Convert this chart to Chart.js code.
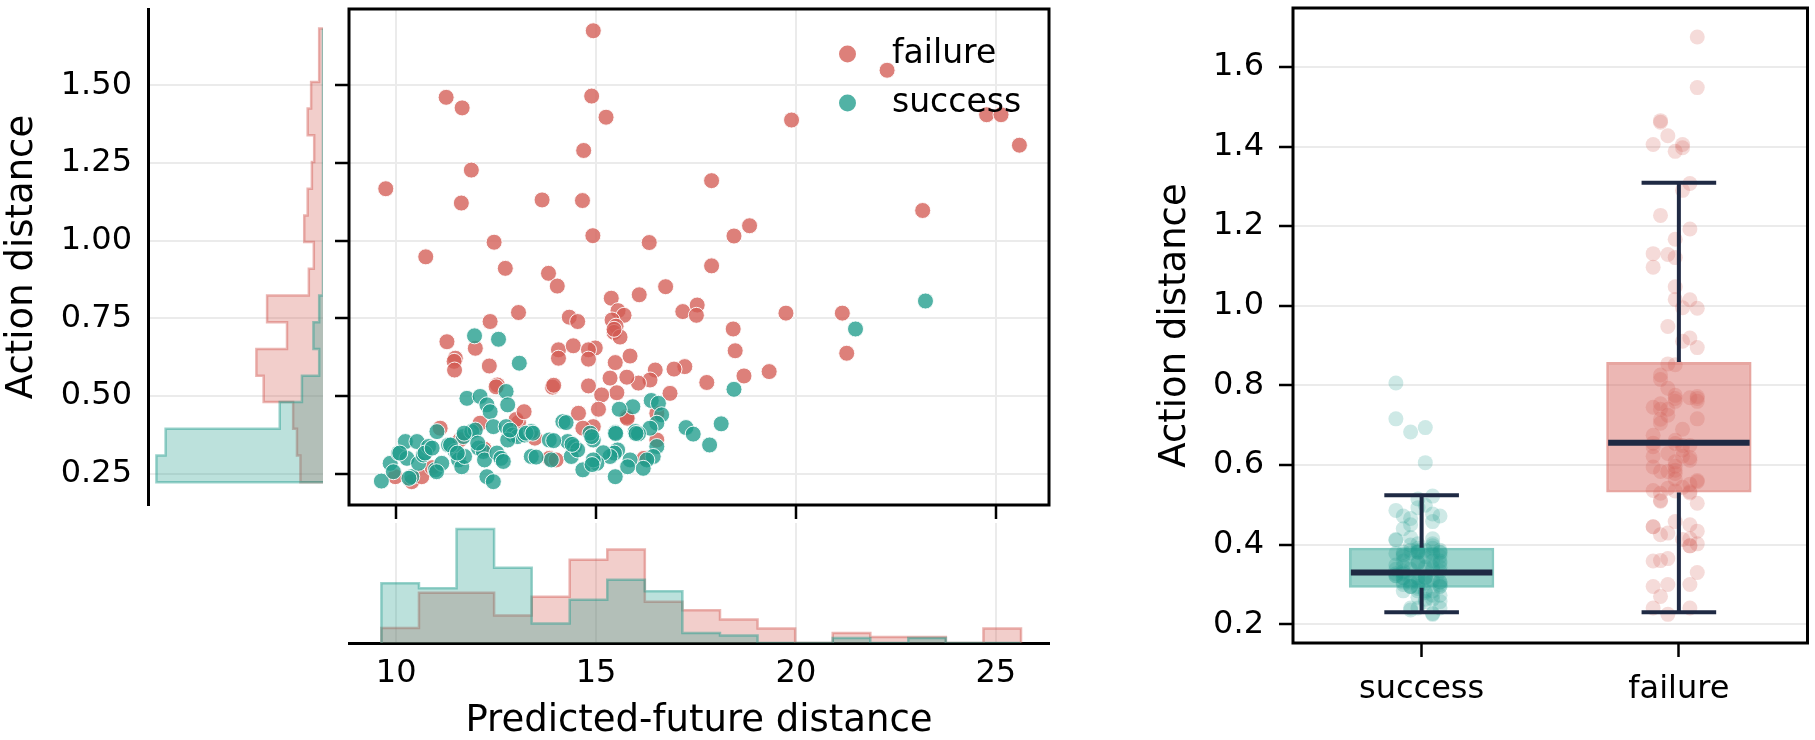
<!DOCTYPE html>
<html>
<head>
<meta charset="utf-8">
<script src="https://cdn.jsdelivr.net/npm/chart.js@4.4.1/dist/chart.umd.min.js"></script>
<style>
  html, body { margin: 0; padding: 0; background: #fff; }
  #wrap { position: relative; width: 1815px; height: 740px; overflow: hidden; }
  #wrap canvas { position: absolute; left: 0; top: 0; }
</style>
</head>
<body>
<div id="wrap">
  <canvas id="histY" width="1815" height="740"></canvas>
  <canvas id="histX" width="1815" height="740"></canvas>
  <canvas id="joint" width="1815" height="740"></canvas>
  <canvas id="box" width="1815" height="740"></canvas>
</div>
<script>
// ---- data ----
const hueOrder = ['failure', 'success']
const boxOrder = ['success', 'failure']

const failurePfd = [14.93, 11.25, 11.65, 14.89, 15.25, 19.89, 22.28, 24.77, 25.13, 25.59, 14.69, 11.88, 9.74, 17.89, 11.63, 13.65, 14.66, 23.17, 18.84, 18.45,
  14.92, 12.45, 16.33, 10.74, 12.73, 13.81, 14.03, 17.89, 16.74, 16.08, 15.38, 13.06, 17.17, 17.53, 17.51, 19.75, 21.16, 21.27, 14.33, 14.54,
  12.35, 15.55, 15.70, 15.40, 15.50, 15.45, 15.60, 15.45, 18.43, 18.48, 19.33, 18.70, 17.77, 17.22, 16.95, 16.48, 16.35, 16.06, 15.77, 15.35,
  16.85, 15.52, 15.14, 15.06, 15.77, 16.52, 14.93, 14.98, 15.85, 15.48, 11.27, 11.48, 11.45, 11.46, 11.98, 12.33, 14.06, 14.06, 14.43, 14.81,
  14.81, 12.53, 12.50, 13.91, 13.94, 14.81, 14.56, 14.67, 13.06, 13.00, 13.47, 13.83, 11.10, 10.39, 10.64, 9.98, 12.10, 16.52, 15.78, 14.00,
  10.90, 12.20, 16.20, 11.60, 13.20]
const failureAd = [1.675, 1.461, 1.427, 1.465, 1.397, 1.388, 1.548, 1.405, 1.405, 1.307, 1.290, 1.227, 1.167, 1.193, 1.121, 1.131, 1.129, 1.097, 1.048, 1.015,
  1.016, 0.995, 0.994, 0.948, 0.911, 0.895, 0.854, 0.919, 0.852, 0.826, 0.815, 0.769, 0.772, 0.793, 0.760, 0.767, 0.767, 0.638, 0.754, 0.740,
  0.740, 0.775, 0.760, 0.745, 0.725, 0.705, 0.690, 0.715, 0.716, 0.646, 0.579, 0.565, 0.544, 0.595, 0.587, 0.584, 0.552, 0.542, 0.561, 0.558,
  0.509, 0.511, 0.504, 0.458, 0.434, 0.359, 0.402, 0.655, 0.629, 0.608, 0.675, 0.622, 0.612, 0.584, 0.654, 0.597, 0.649, 0.622, 0.662, 0.649,
  0.619, 0.536, 0.530, 0.529, 0.535, 0.533, 0.445, 0.397, 0.415, 0.425, 0.365, 0.300, 0.397, 0.225, 0.241, 0.241, 0.413, 0.445, 0.429, 0.295,
  0.270, 0.330, 0.300, 0.360, 0.450]

const successPfd = [23.24, 21.49, 18.45, 18.13, 17.84, 17.25, 17.43, 11.96, 12.56, 13.08, 16.38, 16.56, 16.64, 16.52, 16.35, 15.92, 15.58, 15.48, 15.98, 16.06,
  16.52, 16.43, 16.27, 16.18, 15.85, 15.79, 15.54, 15.46, 15.35, 15.18, 15.02, 14.93, 15.48, 9.63, 9.85, 9.93, 10.06, 10.23, 10.27, 10.39,
  10.52, 10.56, 10.68, 10.81, 11.02, 10.98, 11.14, 11.31, 11.48, 11.56, 11.64, 11.68, 11.77, 11.71, 11.89, 11.98, 12.06, 12.10, 12.18, 12.27,
  12.21, 12.35, 12.27, 12.43, 12.43, 12.52, 12.62, 12.75, 12.75, 12.79, 12.92, 13.04, 13.21, 13.38, 13.38, 13.83, 13.88, 14.17, 14.29, 14.46,
  14.38, 14.54, 14.67, 14.85, 14.93, 10.32, 10.72, 10.90, 11.36, 11.70, 12.04, 12.68, 12.79, 12.85, 13.25, 13.42, 11.01, 14.25, 14.89, 14.90,
  15.49, 16.00, 13.50, 13.94, 14.40, 11.53, 10.09]
const successAd = [0.806, 0.716, 0.522, 0.411, 0.343, 0.399, 0.378, 0.694, 0.683, 0.606, 0.486, 0.477, 0.440, 0.413, 0.397, 0.466, 0.458, 0.383, 0.386, 0.379,
  0.338, 0.306, 0.295, 0.268, 0.295, 0.273, 0.327, 0.317, 0.306, 0.318, 0.284, 0.359, 0.241, 0.227, 0.284, 0.257, 0.317, 0.354, 0.300, 0.241,
  0.354, 0.284, 0.311, 0.338, 0.386, 0.263, 0.284, 0.343, 0.322, 0.295, 0.273, 0.370, 0.493, 0.306, 0.386, 0.391, 0.333, 0.499, 0.322, 0.472,
  0.295, 0.450, 0.241, 0.225, 0.402, 0.317, 0.300, 0.402, 0.515, 0.472, 0.375, 0.370, 0.375, 0.386, 0.306, 0.359, 0.295, 0.418, 0.354, 0.338,
  0.306, 0.327, 0.263, 0.381, 0.295, 0.236, 0.317, 0.333, 0.343, 0.381, 0.349, 0.290, 0.359, 0.391, 0.381, 0.381, 0.257, 0.415, 0.370, 0.280,
  0.380, 0.380, 0.304, 0.357, 0.345, 0.317, 0.317]

// marginal histograms (bin edges + heights in counts)
const pfdEdges = [9.63, 10.57, 11.51, 12.45, 13.39, 14.34, 15.28, 16.22, 17.16, 18.10, 19.04, 19.98, 20.92, 21.86, 22.81, 23.75, 24.69, 25.63]
const failurePfdHist = [3, 10, 10, 5.5, 9.2, 16.6, 18.6, 8.2, 6.5, 4.7, 2.9, 0, 2, 1.2, 1.2, 0, 2.9]
const successPfdHist = [11.9, 10.9, 22.7, 15, 3.9, 8.6, 12.6, 10.3, 2, 1.5, 0, 0, 1, 0, 1, 0, 0]

const adEdges = [0.223, 0.309, 0.395, 0.481, 0.566, 0.652, 0.738, 0.824, 0.910, 0.996, 1.081, 1.167, 1.253, 1.339, 1.425, 1.510, 1.596, 1.682]
const failureAdHist = [5.9, 6.8, 7.8, 15.5, 17.4, 9.4, 14.6, 3.7, 2.4, 4.9, 4.0, 2.9, 2.3, 4.0, 3.1, 1, 1]
const successAdHist = [43.5, 41.1, 11.3, 5.5, 1, 2.5, 1, 0, 0, 0, 0, 0, 0, 0, 0, 0, 0]

// box plot stats, in boxOrder
const whiskerLow = [0.230, 0.230]
const q1 = [0.292, 0.531]
const median = [0.330, 0.656]
const q3 = [0.392, 0.859]
const whiskerHigh = [0.524, 1.309]

const pfdTicks = [10, 15, 20, 25]
const adTicks = [0.25, 0.50, 0.75, 1.00, 1.25, 1.50]
const boxTicks = [0.2, 0.4, 0.6, 0.8, 1.0, 1.2, 1.4, 1.6]

// ---- styling ----
const RED = [211, 92, 84]
const TEAL = [32, 156, 140]
const WHISK = '#1f2a44'
const GRID = '#ebebeb'
const rgba = (c, a) => 'rgba(' + c.join(',') + ',' + a + ')'
const colorOf = { failure: RED, success: TEAL }

Chart.defaults.font.family = "'DejaVu Sans'"
Chart.defaults.color = '#000'

const fixW = w => s => { s.width = w; s.paddingLeft = s.paddingRight = s.paddingTop = s.paddingBottom = 0 }
const fixH = h => s => { s.height = h; s.paddingLeft = s.paddingRight = s.paddingTop = s.paddingBottom = 0 }
const setTicks = list => s => { s.ticks = list.map(v => ({ value: v })) }
const pts = (xs, ys) => xs.map((x, i) => ({ x: x, y: ys[i] }))

const framePlugin = {
  id: 'frame',
  afterDatasetsDraw(chart) {
    const { ctx, chartArea: a } = chart
    ctx.save()
    ctx.strokeStyle = '#000'
    ctx.lineWidth = 3
    ctx.strokeRect(a.left, a.top, a.right - a.left, a.bottom - a.top)
    ctx.restore()
  }
}

const insideLegend = {
  id: 'insideLegend',
  afterDatasetsDraw(chart) {
    const { ctx, chartArea: a } = chart
    ctx.save()
    ctx.font = '33px "DejaVu Sans"'
    ctx.textBaseline = 'alphabetic'
    hueOrder.forEach((name, i) => {
      const y = a.top + 45 + i * 49
      ctx.beginPath()
      ctx.arc(a.right - 201.5, y, 8.5, 0, Math.PI * 2)
      ctx.fillStyle = rgba(colorOf[name], 0.78)
      ctx.fill()
      ctx.fillStyle = '#000'
      ctx.fillText(name, a.right - 157, y + 9)
    })
    ctx.restore()
  }
}

// step outline for a histogram, closed on the baseline
function stepPoints(edges, counts, vertical) {
  const P = (v, c) => vertical ? { x: c, y: v } : { x: v, y: c }
  const out = [P(edges[0], 0)]
  counts.forEach((c, i) => { out.push(P(edges[i], c)); out.push(P(edges[i + 1], c)) })
  out.push(P(edges[edges.length - 1], 0))
  return out
}

function histDataset(name, edges, counts, vertical, order) {
  return {
    label: name,
    data: stepPoints(edges, counts, vertical),
    showLine: true,
    fill: 'shape',
    backgroundColor: rgba(colorOf[name], 0.3),
    borderColor: rgba(colorOf[name], 0.45),
    borderWidth: 2.5,
    pointRadius: 0,
    tension: 0,
    order: order
  }
}

const AD_MIN = 0.150, AD_MAX = 1.745
const PFD_MIN = 8.82, PFD_MAX = 26.33

// main scatter
new Chart(document.getElementById('joint'), {
  type: 'scatter',
  data: {
    datasets: [
      { label: 'success', data: pts(successPfd, successAd), backgroundColor: rgba(TEAL, 0.78), borderColor: 'rgba(255,255,255,0.9)', borderWidth: 1, pointRadius: 8, order: 0 },
      { label: 'failure', data: pts(failurePfd, failureAd), backgroundColor: rgba(RED, 0.78), borderColor: 'rgba(255,255,255,0.9)', borderWidth: 1, pointRadius: 8, order: 1 }
    ]
  },
  options: {
    responsive: false,
    animation: false,
    layout: { padding: { left: 335, top: 9, right: 766, bottom: 221 } },
    plugins: { legend: { display: false }, tooltip: { enabled: false } },
    scales: {
      x: {
        type: 'linear', min: PFD_MIN, max: PFD_MAX,
        afterBuildTicks: setTicks(pfdTicks),
        ticks: { display: false },
        grid: { color: GRID, lineWidth: 2, tickColor: '#000', tickWidth: 2.5, tickLength: 14 },
        border: { display: false },
        afterFit: fixH(14)
      },
      y: {
        type: 'linear', min: AD_MIN, max: AD_MAX,
        afterBuildTicks: setTicks(adTicks),
        ticks: { display: false },
        grid: { color: GRID, lineWidth: 2, tickColor: '#000', tickWidth: 2.5, tickLength: 14 },
        border: { display: false },
        afterFit: fixW(14)
      }
    }
  },
  plugins: [framePlugin, insideLegend]
})

// left marginal: action distance
new Chart(document.getElementById('histY'), {
  type: 'scatter',
  data: {
    datasets: [
      histDataset('success', adEdges, successAdHist, true, 0),
      histDataset('failure', adEdges, failureAdHist, true, 1)
    ]
  },
  options: {
    responsive: false,
    animation: false,
    layout: { padding: { left: 0, top: 9, right: 1815 - 323, bottom: 740 - 505 } },
    plugins: { legend: { display: false }, tooltip: { enabled: false } },
    scales: {
      x: { type: 'linear', reverse: true, min: 0, max: 45.7, display: false },
      y: {
        type: 'linear', min: AD_MIN, max: AD_MAX,
        afterBuildTicks: setTicks(adTicks),
        ticks: { font: { size: 32 }, padding: 16, callback: v => v.toFixed(2) },
        grid: { color: GRID, lineWidth: 2, drawTicks: false },
        border: { display: true, color: '#000', width: 3 },
        title: { display: true, text: 'Action distance', font: { size: 37 }, padding: 0 },
        afterFit: fixW(148)
      }
    }
  }
})

// bottom marginal: predicted-future distance
new Chart(document.getElementById('histX'), {
  type: 'scatter',
  data: {
    datasets: [
      histDataset('success', pfdEdges, successPfdHist, false, 0),
      histDataset('failure', pfdEdges, failurePfdHist, false, 1)
    ]
  },
  options: {
    responsive: false,
    animation: false,
    layout: { padding: { left: 349, top: 523, right: 766, bottom: 0 } },
    plugins: { legend: { display: false }, tooltip: { enabled: false } },
    scales: {
      x: {
        type: 'linear', min: PFD_MIN, max: PFD_MAX,
        afterBuildTicks: setTicks(pfdTicks),
        ticks: { font: { size: 32 }, padding: 11, callback: v => String(v) },
        grid: { color: GRID, lineWidth: 2, drawTicks: false },
        border: { display: true, color: '#000', width: 3 },
        title: { display: true, text: 'Predicted-future distance', font: { size: 37 }, padding: { top: 0, bottom: -4 } },
        afterFit: fixH(97)
      },
      y: { type: 'linear', min: 0, max: 23.9, display: false }
    }
  }
})

// box plot + strip
const jitter = v => ((Math.round(v * 1000) % 7) / 7 - 0.5) * 0.2
const stripOf = { success: [successPfd, successAd], failure: [failurePfd, failureAd] }

const boxSets = []
boxSets.push({
  type: 'bar',
  data: boxOrder.map((g, i) => ({ x: i, y: [q1[i], q3[i]] })),
  backgroundColor: boxOrder.map(g => rgba(colorOf[g], 0.44)),
  borderColor: boxOrder.map(g => rgba(colorOf[g], 0.55)),
  borderWidth: 3,
  borderSkipped: false,
  categoryPercentage: 1,
  barPercentage: 0.565,
  order: 3
})
boxOrder.forEach((g, i) => {
  const [xs, ys] = stripOf[g]
  boxSets.push({
    type: 'scatter',
    data: ys.map((y, k) => ({ x: i + jitter(xs[k]), y: y })),
    backgroundColor: rgba(colorOf[g], 0.22),
    borderWidth: 0,
    pointRadius: 7.5,
    order: 2
  })
  const seg = (x0, y0, x1, y1, w, order) => boxSets.push({
    type: 'scatter', showLine: true,
    data: [{ x: x0, y: y0 }, { x: x1, y: y1 }],
    borderColor: WHISK, borderWidth: w, pointRadius: 0, order: order
  })
  seg(i, q3[i], i, whiskerHigh[i], 4, 1)
  seg(i, whiskerLow[i], i, q1[i], 4, 1)
  seg(i - 0.145, whiskerHigh[i], i + 0.145, whiskerHigh[i], 4, 1)
  seg(i - 0.145, whiskerLow[i], i + 0.145, whiskerLow[i], 4, 1)
  seg(i - 0.275, median[i], i + 0.275, median[i], 6, 0)
})

new Chart(document.getElementById('box'), {
  type: 'scatter',
  data: { datasets: boxSets },
  options: {
    responsive: false,
    animation: false,
    layout: { padding: { left: 1153, top: 8, right: 6, bottom: 0 } },
    plugins: { legend: { display: false }, tooltip: { enabled: false } },
    scales: {
      x: {
        type: 'linear', min: -0.5, max: 1.5, offset: false,
        afterBuildTicks: setTicks(boxOrder.map((g, i) => i)),
        ticks: { font: { size: 32 }, padding: 13, callback: v => boxOrder[v] },
        grid: { offset: false, drawOnChartArea: false, tickColor: '#000', tickWidth: 2.5, tickLength: 14 },
        border: { display: false },
        afterFit: fixH(97)
      },
      y: {
        type: 'linear', min: 0.153, max: 1.748,
        afterBuildTicks: setTicks(boxTicks),
        ticks: { font: { size: 32 }, padding: 15, callback: v => v.toFixed(1) },
        grid: { color: GRID, lineWidth: 2, tickColor: '#000', tickWidth: 2.5, tickLength: 14 },
        border: { display: false },
        title: { display: true, text: 'Action distance', font: { size: 37 }, padding: 0 },
        afterFit: fixW(140)
      }
    }
  },
  plugins: [framePlugin]
})
</script>
</body>
</html>
